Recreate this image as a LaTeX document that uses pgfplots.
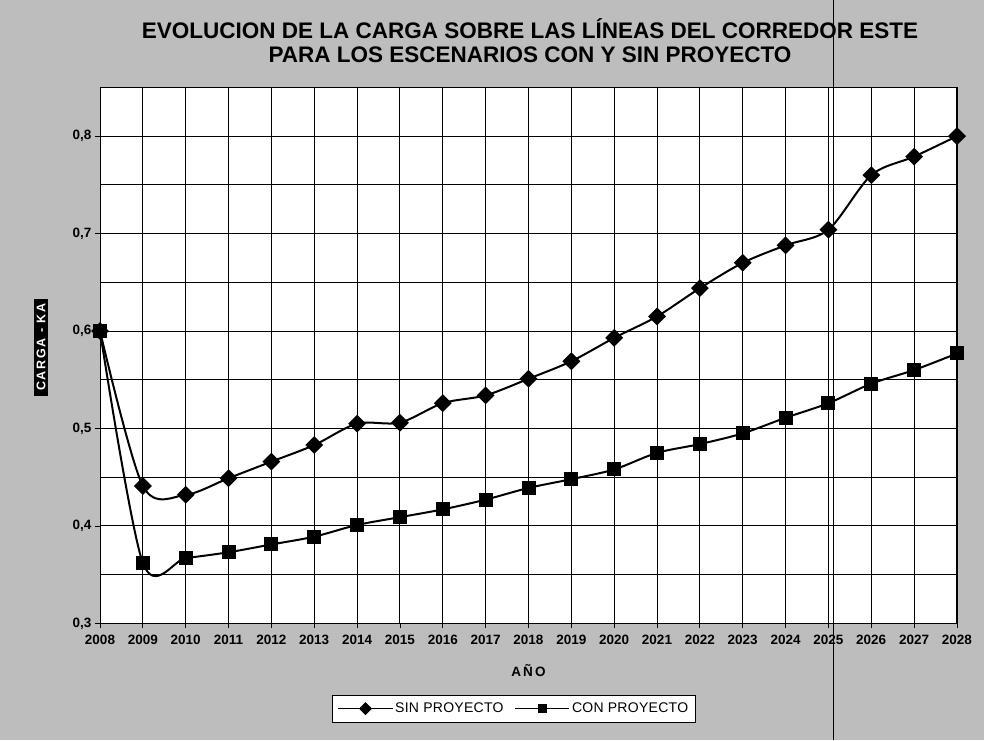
\documentclass[border=0pt]{standalone}
\usepackage{pgfplots}
\pgfplotsset{compat=1.18}
\usepackage{fontspec}
\setmainfont{Liberation Sans}
\newfontfamily\spaced{Liberation Sans}[LetterSpace=14]
\newfontfamily\lspaced{Liberation Sans}[LetterSpace=2]
\definecolor{bggray}{rgb}{0.74,0.74,0.74}

\pgfplotstableread{
year sin con
2008 0.600 0.600
2009 0.441 0.362
2010 0.432 0.367
2011 0.449 0.373
2012 0.466 0.381
2013 0.483 0.389
2014 0.505 0.401
2015 0.506 0.409
2016 0.526 0.417
2017 0.534 0.427
2018 0.551 0.439
2019 0.569 0.448
2020 0.593 0.458
2021 0.615 0.475
2022 0.644 0.484
2023 0.670 0.495
2024 0.688 0.511
2025 0.704 0.526
2026 0.760 0.546
2027 0.779 0.560
2028 0.800 0.577
}\datatable

\begin{document}
\begin{tikzpicture}[x=1pt,y=1pt]
\path[fill=bggray] (0,0) rectangle (984,740);
\begin{axis}[
  at={(100pt,117pt)}, anchor=south west,
  scale only axis, width=857pt, height=536pt,
  xmin=2008, xmax=2028, ymin=0.3, ymax=0.85,
  clip=false,
  axis background/.style={fill=white},
  axis line style={black, line width=1pt},
  xtick={2008,...,2028},
  ytick={0.3,0.4,...,0.81},
  minor y tick num=1,
  grid=both,
  major grid style={black, line width=0.9pt},
  minor grid style={black, line width=0.9pt},
  tick pos=left,
  tick align=outside, major tick length=5pt, minor tick length=0pt,
  tick style={black, line width=0.8pt},
  /pgf/number format/assume math mode=true,
  /pgf/number format/1000 sep={},
  ticklabel style={font=\bfseries\fontsize{13.5}{13.5}\selectfont},
  xticklabel style={yshift=-3pt},
  yticklabel style={xshift=0pt, /pgf/number format/.cd, fixed, fixed zerofill, precision=1, use comma},
  xlabel={\spaced A\,Ñ\,O},
  xlabel style={at={(axis description cs:0.5,-0.088)}, anchor=center, font=\bfseries\fontsize{13.5}{13.5}\selectfont},
  ylabel={\spaced\bfseries CARGA - KA},
  ylabel style={at={(axis description cs:-0.0688,0.515)}, anchor=center, fill=black, text=white,
     font=\fontsize{12.5}{12.5}\selectfont, inner xsep=5pt, inner ysep=2.5pt},
  legend columns=2,
  legend style={at={(axis description cs:0.483,-0.159)}, anchor=center, draw=black, fill=white,
     line width=0.8pt, font=\lspaced\fontsize{14}{14}\selectfont, inner xsep=5pt, inner ysep=6pt,
     /tikz/every even column/.append style={column sep=9pt}},
  legend image code/.code={\draw[#1, line width=1.5pt, mark size=3.8pt, mark repeat=2, mark phase=2]
     plot coordinates {(0pt,0pt) (27pt,0pt) (54pt,0pt)};},
]
\addplot[black, line width=2pt, smooth, mark=square*, mark size=5.3pt, mark options={rotate=45, solid}]
  table[x=year, y=sin] {\datatable};
\addlegendentry{SIN PROYECTO}
\addplot[black, line width=2pt, smooth, mark=square*, mark size=6pt, mark options={solid}]
  table[x=year, y=con] {\datatable};
\addlegendentry{CON PROYECTO}
\end{axis}
\node[font=\bfseries\fontsize{22.5}{24}\selectfont, align=center, anchor=center]
  at (530,700) {EVOLUCION DE LA CARGA SOBRE LAS LÍNEAS DEL CORREDOR ESTE\\PARA LOS ESCENARIOS CON Y SIN PROYECTO};
\draw[black, line width=0.8pt] (833,0) -- (833,740);
\end{tikzpicture}
\end{document}
